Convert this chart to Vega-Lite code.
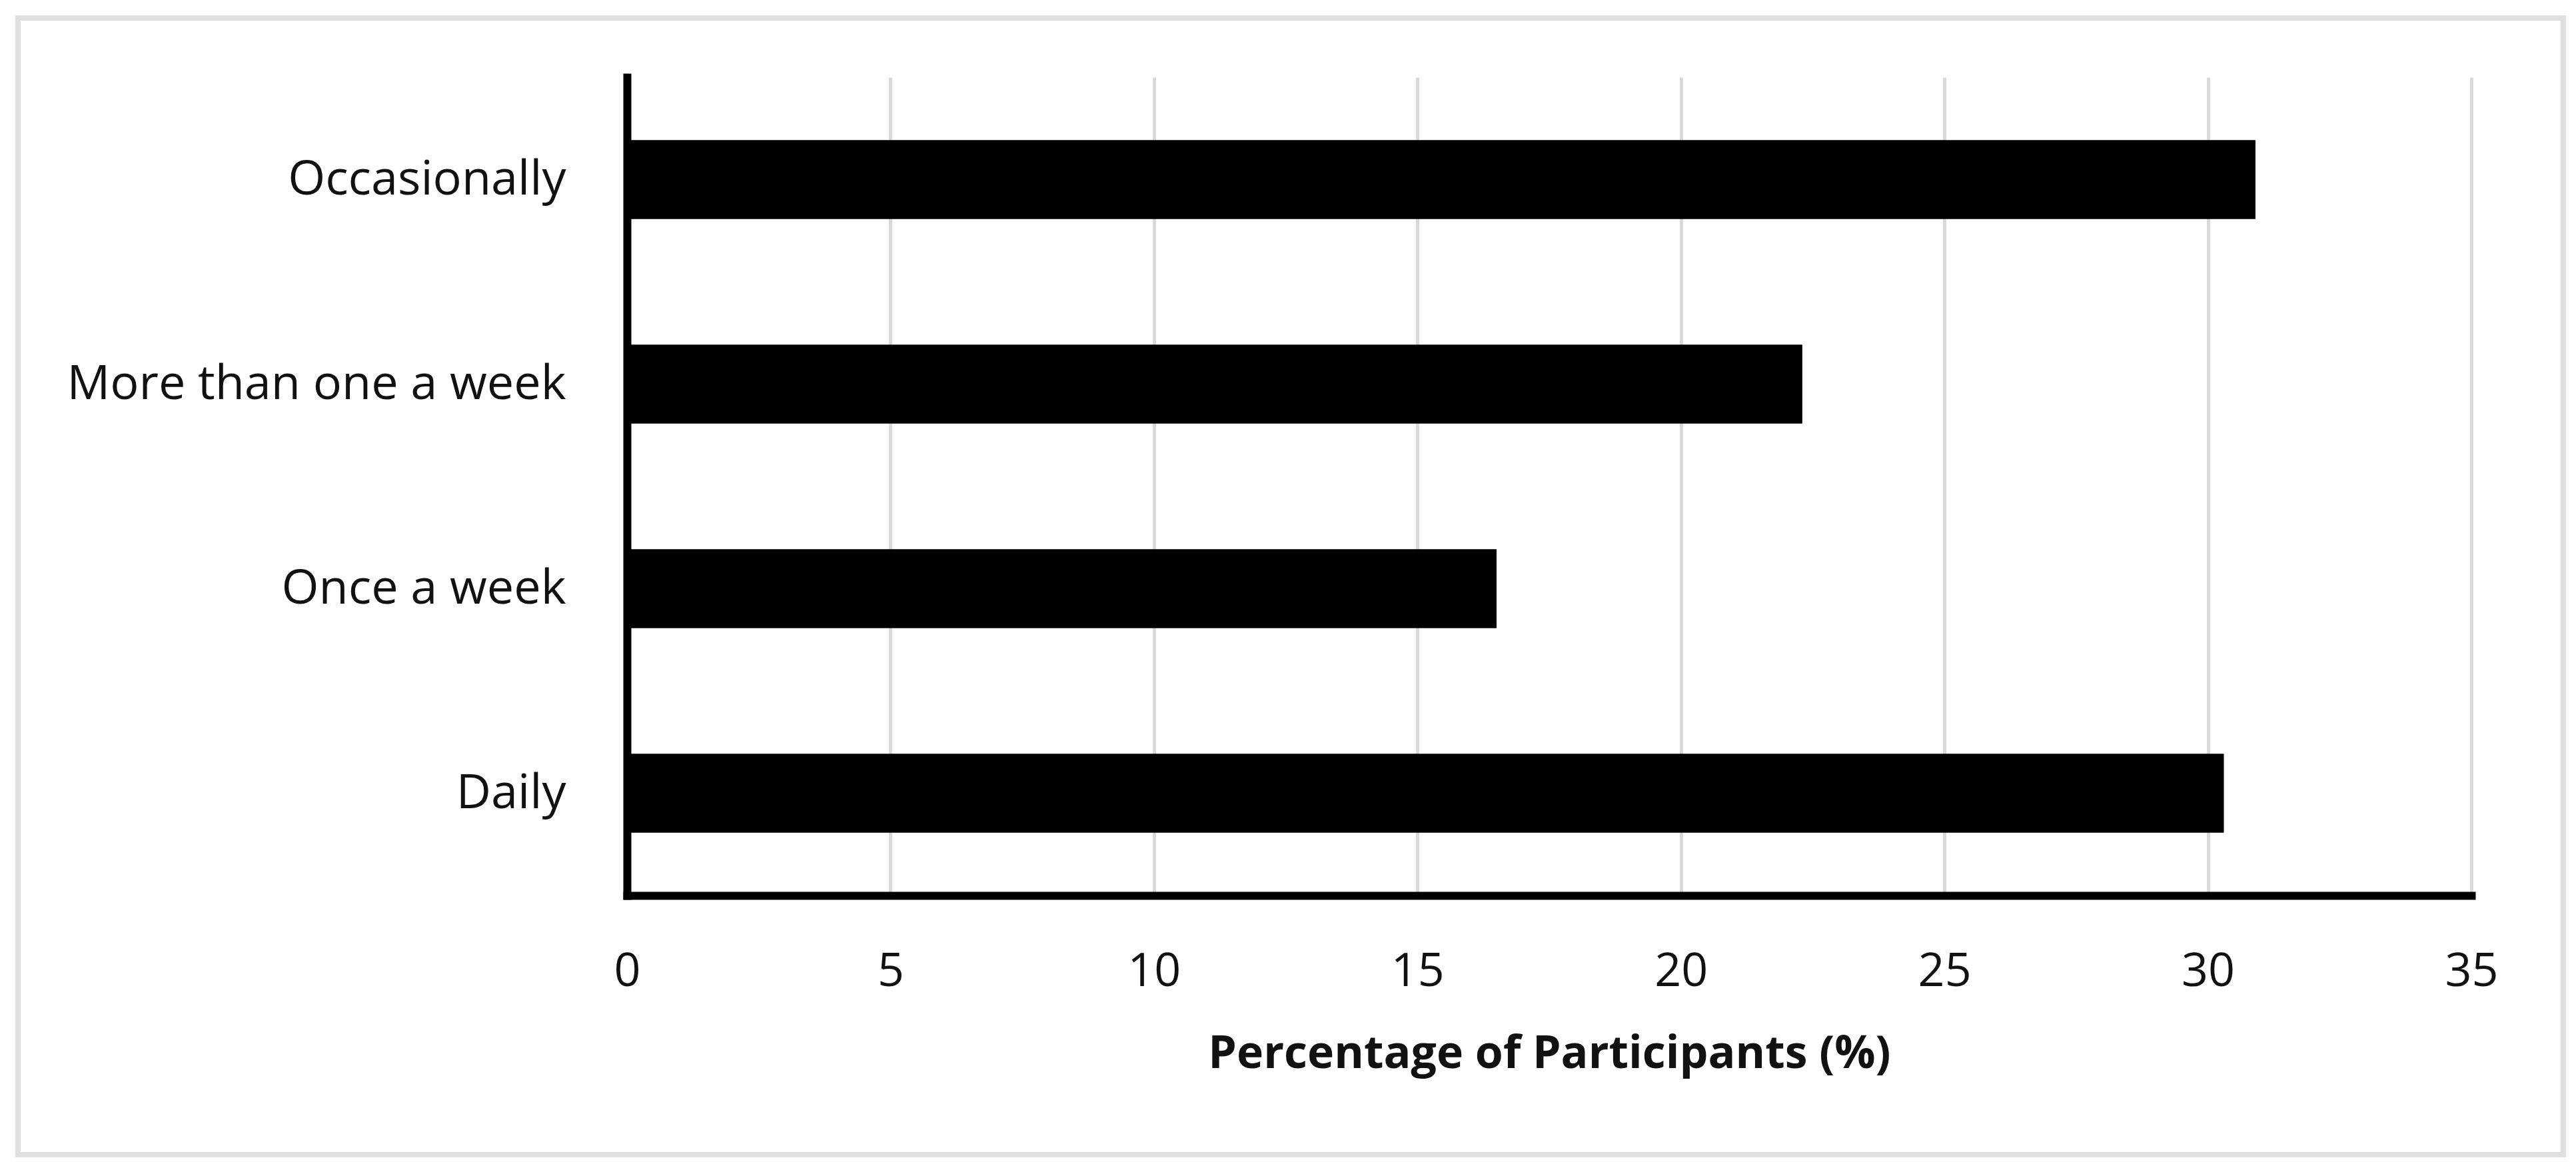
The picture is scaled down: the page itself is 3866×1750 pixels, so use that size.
{
  "$schema": "https://vega.github.io/schema/vega-lite/v6.json",
  "width": 3820,
  "height": 1706,
  "autosize": {"type": "none"},
  "padding": {"left": 27, "top": 27, "right": 19, "bottom": 17},
  "background": "#ffffff",
  "data": {
    "values": [
      {"frequency": "Occasionally", "percent": 30.9},
      {"frequency": "More than one a week", "percent": 22.3},
      {"frequency": "Once a week", "percent": 16.5},
      {"frequency": "Daily", "percent": 30.3}
    ]
  },
  "encoding": {
    "y": {
      "field": "frequency",
      "type": "nominal",
      "title": null,
      "scale": {
        "domain": ["Occasionally", "More than one a week", "Once a week", "Daily"],
        "range": [89, 1317],
        "paddingInner": 0.615,
        "paddingOuter": 0.3075
      },
      "axis": {
        "offset": -914,
        "domainColor": "#000000",
        "domainWidth": 12,
        "domainCap": "square",
        "ticks": false,
        "tickSize": 0,
        "grid": false,
        "labelPadding": 92,
        "labelLimit": 2000,
        "labelFontSize": 72,
        "labelColor": "#111111",
        "labelFont": "Open Sans"
      }
    }
  },
  "layer": [
    {
      "mark": {"type": "bar", "color": "#000000"},
      "encoding": {
        "x": {
          "field": "percent",
          "type": "quantitative",
          "title": null,
          "scale": {"domain": [0, 35], "nice": false, "range": [914, 3682]},
          "axis": {
            "orient": "top",
            "offset": -1317,
            "values": [0, 5, 10, 15, 20, 25, 30, 35],
            "domain": false,
            "ticks": false,
            "labels": false,
            "grid": true,
            "gridColor": "#d9d9d9",
            "gridWidth": 5
          }
        }
      }
    },
    {
      "mark": {"type": "bar", "color": "#000000"},
      "encoding": {
        "x": {
          "field": "percent",
          "type": "quantitative",
          "title": "Percentage of Participants (%)",
          "scale": {"domain": [0, 35], "nice": false, "range": [914, 3682]},
          "axis": {
            "orient": "bottom",
            "values": [0, 5, 10, 15, 20, 25, 30, 35],
            "offset": -389,
            "domainColor": "#000000",
            "domainWidth": 12,
            "domainCap": "square",
            "ticks": false,
            "tickSize": 0,
            "grid": false,
            "labelFlush": false,
            "labelPadding": 80,
            "labelFontSize": 70,
            "labelColor": "#111111",
            "labelFont": "Open Sans",
            "titleFont": "Open Sans",
            "titleFontSize": 68,
            "titleFontWeight": "bold",
            "titleColor": "#111111",
            "titlePadding": 55
          }
        }
      }
    }
  ],
  "resolve": {"axis": {"x": "independent"}},
  "config": {
    "font": "Open Sans",
    "view": {"stroke": "#e0e0e0", "strokeWidth": 8, "fill": "#ffffff"}
  }
}
